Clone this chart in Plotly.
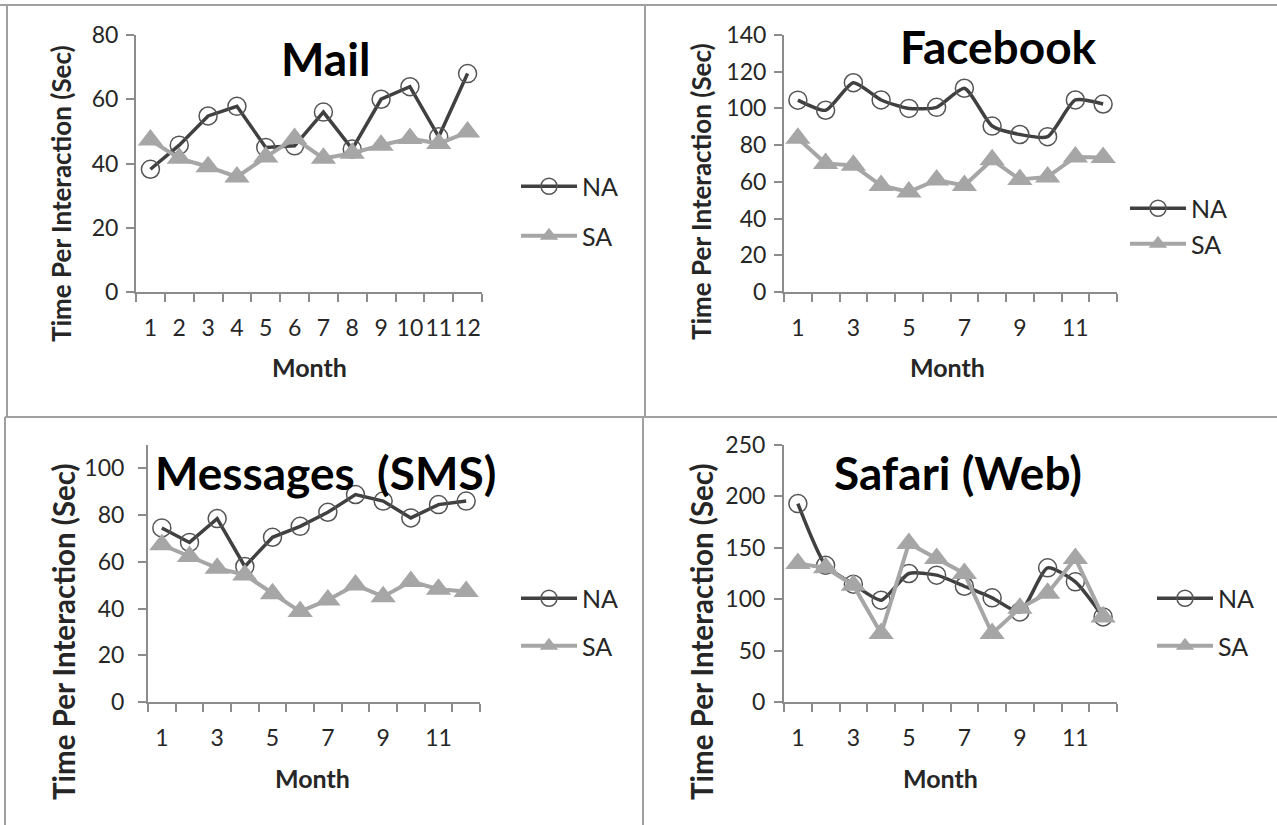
import plotly.graph_objects as go

W, H = 1277, 825

months = list(range(1, 13))

mail_na = [38.2, 45.7, 54.8, 57.8, 45.0, 45.5, 56.0, 44.5, 60.0, 63.9, 48.3, 68.0]
mail_sa = [47.3, 41.6, 39.0, 35.8, 42.0, 47.8, 41.6, 43.2, 45.7, 47.8, 46.2, 49.8]

fb_na = [104.5, 99.0, 114.0, 104.6, 100.0, 100.6, 111.0, 90.4, 85.8, 84.6, 104.6, 102.4]
fb_sa = [83.7, 70.0, 69.0, 58.0, 54.5, 61.0, 58.0, 72.0, 61.3, 62.7, 73.6, 73.3]

sms_na = [74.5, 68.3, 78.5, 58.0, 70.5, 75.2, 81.2, 88.8, 86.0, 78.8, 84.5, 86.0]
sms_sa = [67.3, 62.3, 57.3, 54.4, 46.3, 38.7, 43.7, 50.1, 45.1, 51.6, 48.3, 47.3]

web_na = [193.0, 133.0, 114.6, 99.0, 125.0, 123.4, 112.6, 101.3, 87.6, 130.5, 116.9, 82.8]
web_sa = [134.8, 130.5, 113.6, 66.6, 154.2, 139.6, 125.0, 66.6, 91.3, 105.9, 139.6, 82.8]

series_names = ["NA", "SA"]
panel_titles = ["Mail", "Facebook", "Messages  (SMS)", "Safari (Web)"]
y_title = "Time Per Interaction (Sec)"
x_title = "Month"

FONT = "Lato"
NA_COLOR = "#404040"
SA_COLOR = "#a6a6a6"
AXIS_COLOR = "#8c8c8c"
TEXT_COLOR = "#262626"


def px_x(x):
    return x / W


def px_y(y):
    return 1 - y / H


panels = [
    dict(na=mail_na, sa=mail_sa, x0=136, x1=482, y0=35, y1=292, yr=[0, 80], dt=20,
         xt=months, na_shape="linear", legend_x=516, legend_y=211, gap=14, ystand=3,
         title=panel_titles[0], tx=325, ty=58, tsize=46,
         ytx=61, yty=194, ytsize=26, mx=309, my=367),
    dict(na=fb_na, sa=fb_sa, x0=784, x1=1117, y0=35, y1=292, yr=[0, 140], dt=20,
         xt=[1, 3, 5, 7, 9, 11], na_shape="spline", legend_x=1125, legend_y=226, gap=0, ystand=3,
         title=panel_titles[1], tx=998, ty=46, tsize=46,
         ytx=701, yty=192, ytsize=26, mx=947, my=367),
    dict(na=sms_na, sa=sms_sa, x0=148, x1=480, y0=445, y1=702, yr=[0, 110], dt=20,
         xt=[1, 3, 5, 7, 9, 11], na_shape="linear", legend_x=516, legend_y=622, gap=12, ystand=9,
         title=panel_titles[2], tx=325, ty=472, tsize=46,
         ytx=63, yty=632, ytsize=29.5, mx=312, my=778),
    dict(na=web_na, sa=web_sa, x0=784, x1=1117, y0=445, y1=702, yr=[0, 250], dt=50,
         xt=[1, 3, 5, 7, 9, 11], na_shape="spline", legend_x=1152, legend_y=622, gap=12, ystand=4,
         title=panel_titles[3], tx=958, ty=472, tsize=46,
         ytx=701, yty=632, ytsize=29.5, mx=940, my=778),
]

fig = go.Figure()
annotations = []
layout = {}

for i, p in enumerate(panels, start=1):
    sfx = "" if i == 1 else str(i)
    lg = "legend" if i == 1 else f"legend{i}"
    xa, ya = f"x{sfx}", f"y{sfx}"
    fig.add_trace(go.Scatter(
        x=months, y=p["na"], name=series_names[0], mode="lines+markers",
        xaxis=xa, yaxis=ya, legend=lg, legendgroup=f"na{i}",
        line=dict(color=NA_COLOR, width=3.5, shape=p["na_shape"], smoothing=0.6),
        marker=dict(symbol="circle-open", size=18, color="#555555",
                    line=dict(width=1.5, color="#555555")),
        cliponaxis=False,
    ))
    fig.add_trace(go.Scatter(
        x=months, y=p["sa"], name=series_names[1], mode="lines+markers",
        xaxis=xa, yaxis=ya, legend=lg, legendgroup=f"sa{i}",
        line=dict(color=SA_COLOR, width=4),
        marker=dict(symbol="triangle-up", size=22, color=SA_COLOR,
                    line=dict(width=0)),
        cliponaxis=False,
    ))
    layout[f"xaxis{sfx}"] = dict(
        domain=[px_x(p["x0"]), px_x(p["x1"])], anchor=ya, range=[0.5, 12.5],
        tickmode="array", tickvals=p["xt"], ticktext=[str(v) for v in p["xt"]],
        ticks="", showline=True, linecolor=AXIS_COLOR, linewidth=2,
        showgrid=False, zeroline=False, ticklabelstandoff=14, automargin=False,
        tickfont=dict(family=FONT, size=23, color=TEXT_COLOR),
        minor=dict(tickmode="array", tickvals=[m - 0.5 for m in months] + [12.5],
                   ticks="outside", ticklen=8, tickcolor=AXIS_COLOR, tickwidth=2,
                   showgrid=False),
        fixedrange=True,
    )
    layout[f"yaxis{sfx}"] = dict(
        domain=[px_y(p["y1"]), px_y(p["y0"])], anchor=xa, range=p["yr"],
        tickmode="linear", tick0=0, dtick=p["dt"],
        ticks="outside", ticklen=8, tickcolor=AXIS_COLOR, tickwidth=2,
        showline=True, linecolor=AXIS_COLOR, linewidth=2,
        showgrid=False, zeroline=False, ticklabelstandoff=p["ystand"], automargin=False,
        tickfont=dict(family=FONT, size=23, color=TEXT_COLOR),
        fixedrange=True,
    )
    layout[lg] = dict(
        x=px_x(p["legend_x"]), y=px_y(p["legend_y"]), xanchor="left", yanchor="middle",
        traceorder="grouped", tracegroupgap=p["gap"], bgcolor="rgba(0,0,0,0)",
        font=dict(family=FONT, size=25, color=TEXT_COLOR), itemwidth=56,
    )
    annotations.append(dict(
        text=f"<b>{p['title']}</b>", x=px_x(p["tx"]), y=px_y(p["ty"]),
        xref="paper", yref="paper", showarrow=False, xanchor="center", yanchor="middle",
        font=dict(family=FONT, size=p["tsize"], color="#000000"),
    ))
    annotations.append(dict(
        text=f"<b>{y_title}</b>", x=px_x(p["ytx"]), y=px_y(p["yty"]), textangle=-90,
        xref="paper", yref="paper", showarrow=False, xanchor="center", yanchor="middle",
        font=dict(family=FONT, size=p["ytsize"], color=TEXT_COLOR),
    ))
    annotations.append(dict(
        text=f"<b>{x_title}</b>", x=px_x(p["mx"]), y=px_y(p["my"]),
        xref="paper", yref="paper", showarrow=False, xanchor="center", yanchor="middle",
        font=dict(family=FONT, size=25, color=TEXT_COLOR),
    ))

border = dict(color="#a0a0a0", width=2)
shapes = [
    dict(type="line", xref="paper", yref="paper", x0=px_x(0), x1=1, y0=px_y(5), y1=px_y(5), line=border),
    dict(type="line", xref="paper", yref="paper", x0=px_x(7), x1=px_x(7), y0=px_y(5), y1=px_y(417), line=border),
    dict(type="line", xref="paper", yref="paper", x0=px_x(5), x1=px_x(5), y0=px_y(417), y1=0, line=border),
    dict(type="line", xref="paper", yref="paper", x0=px_x(5), x1=1, y0=px_y(417), y1=px_y(417), line=border),
    dict(type="line", xref="paper", yref="paper", x0=px_x(645), x1=px_x(645), y0=px_y(5), y1=px_y(417), line=border),
    dict(type="line", xref="paper", yref="paper", x0=px_x(643), x1=px_x(643), y0=px_y(417), y1=0, line=border),
]

fig.update_layout(
    template="none",
    width=W, height=H, margin=dict(l=0, r=0, t=0, b=0, pad=0, autoexpand=False),
    paper_bgcolor="white", plot_bgcolor="white",
    font=dict(family=FONT, color=TEXT_COLOR),
    annotations=annotations, shapes=shapes, showlegend=True,
    **layout,
)

fig.write_html("out.html", config=dict(displayModeBar=False),
               post_script="document.body.style.margin='0';document.body.style.overflow='hidden';")
